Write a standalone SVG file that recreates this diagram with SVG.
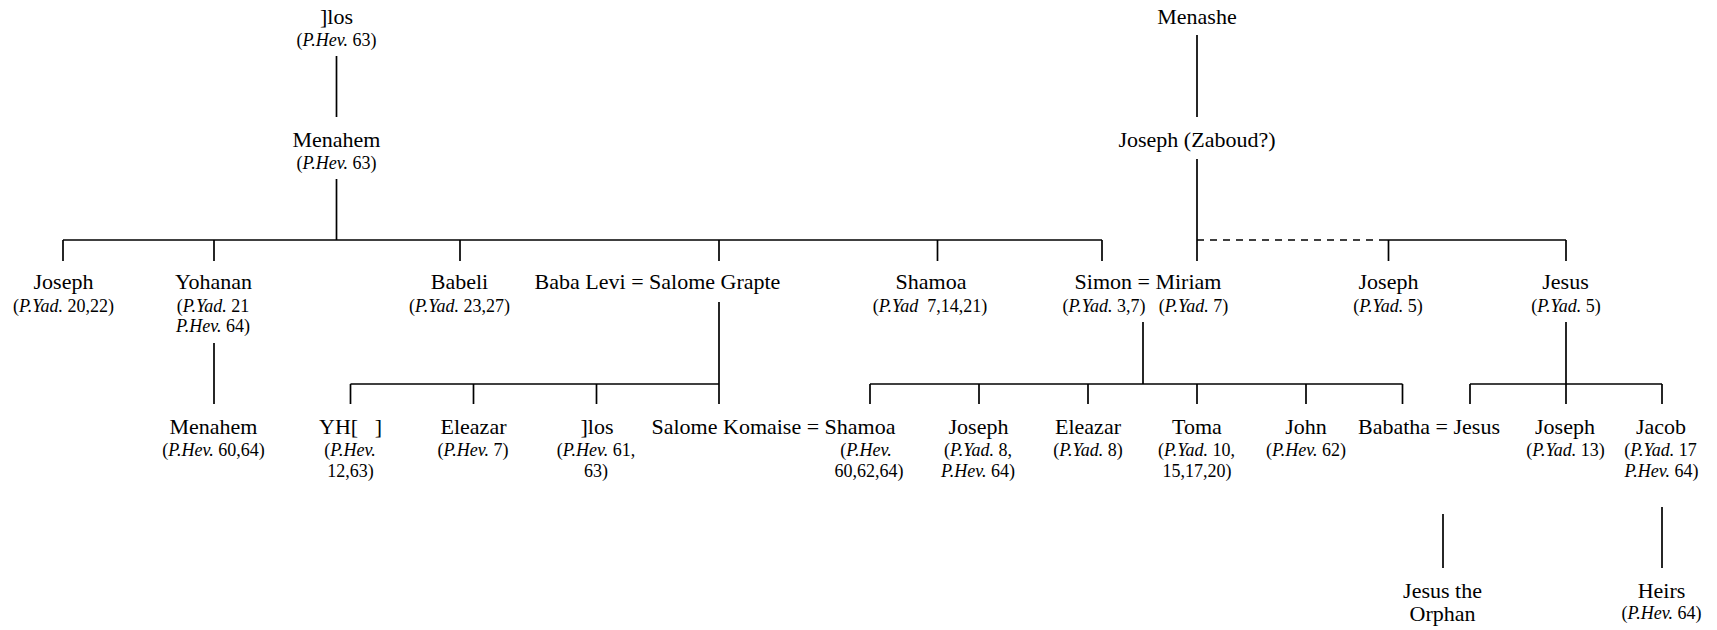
<svg xmlns="http://www.w3.org/2000/svg" width="1717" height="630" viewBox="0 0 1717 630">
  <style>
    text { font-family: "Liberation Serif", "Times New Roman", serif; fill: #000; text-anchor: middle; }
    .n { font-size: 22px; }
    .c { font-size: 18px; }
    .i { font-style: italic; }
    .lines line { stroke: #000; stroke-width: 1.7; fill: none; }
    .lines .dash { stroke-dasharray: 7 6; }
  </style>
  <rect width="1717" height="630" fill="#fff"/>

  <!-- connectors -->
  <g id="connectors" class="lines">
    <!-- ]los line -->
    <line x1="336.5" y1="56" x2="336.5" y2="117"/>
    <line x1="336.5" y1="179" x2="336.5" y2="240"/>
    <line x1="63" y1="240" x2="1102" y2="240"/>
    <line x1="63" y1="240" x2="63" y2="261"/>
    <line x1="214" y1="240" x2="214" y2="261"/>
    <line x1="460" y1="240" x2="460" y2="261"/>
    <line x1="719" y1="240" x2="719" y2="261"/>
    <line x1="937.5" y1="240" x2="937.5" y2="261"/>
    <line x1="1102" y1="240" x2="1102" y2="261"/>
    <!-- Menashe line -->
    <line x1="1197" y1="35" x2="1197" y2="117"/>
    <line x1="1197" y1="159" x2="1197" y2="261"/>
    <line class="dash" x1="1197" y1="240" x2="1382" y2="240"/>
    <line x1="1382" y1="240" x2="1566" y2="240"/>
    <line x1="1388.5" y1="240" x2="1388.5" y2="261"/>
    <line x1="1566" y1="240" x2="1566" y2="261"/>
    <!-- Yohanan to Menahem -->
    <line x1="214" y1="343" x2="214" y2="404"/>
    <!-- Baba Levi = Salome Grapte children -->
    <line x1="719" y1="302" x2="719" y2="404"/>
    <line x1="350.5" y1="384" x2="719" y2="384"/>
    <line x1="350.5" y1="384" x2="350.5" y2="404"/>
    <line x1="473.5" y1="384" x2="473.5" y2="404"/>
    <line x1="596.5" y1="384" x2="596.5" y2="404"/>
    <!-- Simon = Miriam children -->
    <line x1="1143" y1="322" x2="1143" y2="384"/>
    <line x1="870" y1="384" x2="1402.5" y2="384"/>
    <line x1="870" y1="384" x2="870" y2="404"/>
    <line x1="979" y1="384" x2="979" y2="404"/>
    <line x1="1088" y1="384" x2="1088" y2="404"/>
    <line x1="1197" y1="384" x2="1197" y2="404"/>
    <line x1="1306" y1="384" x2="1306" y2="404"/>
    <line x1="1402.5" y1="384" x2="1402.5" y2="404"/>
    <!-- Jesus children -->
    <line x1="1566" y1="322" x2="1566" y2="404"/>
    <line x1="1470" y1="384" x2="1662" y2="384"/>
    <line x1="1470" y1="384" x2="1470" y2="404"/>
    <line x1="1662" y1="384" x2="1662" y2="404"/>
    <!-- last generation -->
    <line x1="1443" y1="514" x2="1443" y2="568"/>
    <line x1="1662" y1="507" x2="1662" y2="568"/>
  </g>

  <!-- generation 1 -->
  <g id="los-top">
    <text class="n" x="336.5" y="24">]los</text>
    <text class="c" x="336.5" y="46">(<tspan class="i">P.Hev.</tspan> 63)</text>
  </g>
  <g id="menashe">
    <text class="n" x="1197" y="23.5">Menashe</text>
  </g>

  <!-- generation 2 -->
  <g id="menahem-top">
    <text class="n" x="336.5" y="147">Menahem</text>
    <text class="c" x="336.5" y="168.5">(<tspan class="i">P.Hev.</tspan> 63)</text>
  </g>
  <g id="joseph-zaboud">
    <text class="n" x="1197" y="147">Joseph (Zaboud?)</text>
  </g>

  <!-- generation 3 -->
  <g id="joseph-1">
    <text class="n" x="63.5" y="289">Joseph</text>
    <text class="c" x="63.5" y="311.5">(<tspan class="i">P.Yad.</tspan> 20,22)</text>
  </g>
  <g id="yohanan">
    <text class="n" x="213.5" y="289">Yohanan</text>
    <text class="c" x="213" y="311.5">(<tspan class="i">P.Yad.</tspan> 21</text>
    <text class="c" x="213" y="332"><tspan class="i">P.Hev.</tspan> 64)</text>
  </g>
  <g id="babeli">
    <text class="n" x="459.5" y="289">Babeli</text>
    <text class="c" x="459.5" y="311.5">(<tspan class="i">P.Yad.</tspan> 23,27)</text>
  </g>
  <g id="baba-levi-salome-grapte">
    <text class="n" x="657.5" y="289">Baba Levi = Salome Grapte</text>
  </g>
  <g id="shamoa-1">
    <text class="n" x="931" y="289">Shamoa</text>
    <text class="c" x="930" y="311.5">(<tspan class="i">P.Yad</tspan>&#160; 7,14,21)</text>
  </g>
  <g id="simon-miriam">
    <text class="n" x="1148" y="289">Simon = Miriam</text>
    <text class="c" x="1104" y="311.5">(<tspan class="i">P.Yad.</tspan> 3,7)</text>
    <text class="c" x="1193.5" y="311.5">(<tspan class="i">P.Yad.</tspan> 7)</text>
  </g>
  <g id="joseph-2">
    <text class="n" x="1388.5" y="289">Joseph</text>
    <text class="c" x="1388" y="311.5">(<tspan class="i">P.Yad.</tspan> 5)</text>
  </g>
  <g id="jesus-1">
    <text class="n" x="1565.5" y="289">Jesus</text>
    <text class="c" x="1566" y="311.5">(<tspan class="i">P.Yad.</tspan> 5)</text>
  </g>

  <!-- generation 4 -->
  <g id="menahem-2">
    <text class="n" x="213.5" y="434">Menahem</text>
    <text class="c" x="213.5" y="456">(<tspan class="i">P.Hev.</tspan> 60,64)</text>
  </g>
  <g id="yh">
    <text class="n" x="350.5" y="434">YH[&#160;&#160;&#160;]</text>
    <text class="c" x="350" y="456">(<tspan class="i">P.Hev.</tspan></text>
    <text class="c" x="350.5" y="476.5">12,63)</text>
  </g>
  <g id="eleazar-1">
    <text class="n" x="473.5" y="434">Eleazar</text>
    <text class="c" x="473" y="456">(<tspan class="i">P.Hev.</tspan> 7)</text>
  </g>
  <g id="los-2">
    <text class="n" x="597" y="434">]los</text>
    <text class="c" x="596" y="456">(<tspan class="i">P.Hev.</tspan> 61,</text>
    <text class="c" x="596" y="476.5">63)</text>
  </g>
  <g id="salome-komaise-shamoa">
    <text class="n" x="773.5" y="434">Salome Komaise = Shamoa</text>
    <text class="c" x="866" y="456">(<tspan class="i">P.Hev.</tspan></text>
    <text class="c" x="869" y="476.5">60,62,64)</text>
  </g>
  <g id="joseph-3">
    <text class="n" x="978.5" y="434">Joseph</text>
    <text class="c" x="978" y="456">(<tspan class="i">P.Yad.</tspan> 8,</text>
    <text class="c" x="978" y="476.5"><tspan class="i">P.Hev.</tspan> 64)</text>
  </g>
  <g id="eleazar-2">
    <text class="n" x="1088" y="434">Eleazar</text>
    <text class="c" x="1088" y="456">(<tspan class="i">P.Yad.</tspan> 8)</text>
  </g>
  <g id="toma">
    <text class="n" x="1197" y="434">Toma</text>
    <text class="c" x="1196.5" y="456">(<tspan class="i">P.Yad.</tspan> 10,</text>
    <text class="c" x="1197" y="476.5">15,17,20)</text>
  </g>
  <g id="john">
    <text class="n" x="1306" y="434">John</text>
    <text class="c" x="1306" y="456">(<tspan class="i">P.Hev.</tspan> 62)</text>
  </g>
  <g id="babatha-jesus">
    <text class="n" x="1429" y="434">Babatha = Jesus</text>
  </g>
  <g id="joseph-4">
    <text class="n" x="1565" y="434">Joseph</text>
    <text class="c" x="1565.5" y="456">(<tspan class="i">P.Yad.</tspan> 13)</text>
  </g>
  <g id="jacob">
    <text class="n" x="1661" y="434">Jacob</text>
    <text class="c" x="1660.5" y="456">(<tspan class="i">P.Yad.</tspan> 17</text>
    <text class="c" x="1661.5" y="476.5"><tspan class="i">P.Hev.</tspan> 64)</text>
  </g>

  <!-- generation 5 -->
  <g id="jesus-orphan">
    <text class="n" x="1442.5" y="598">Jesus the</text>
    <text class="n" x="1442.5" y="621">Orphan</text>
  </g>
  <g id="heirs">
    <text class="n" x="1661.5" y="598">Heirs</text>
    <text class="c" x="1661.5" y="618.5">(<tspan class="i">P.Hev.</tspan> 64)</text>
  </g>
</svg>
